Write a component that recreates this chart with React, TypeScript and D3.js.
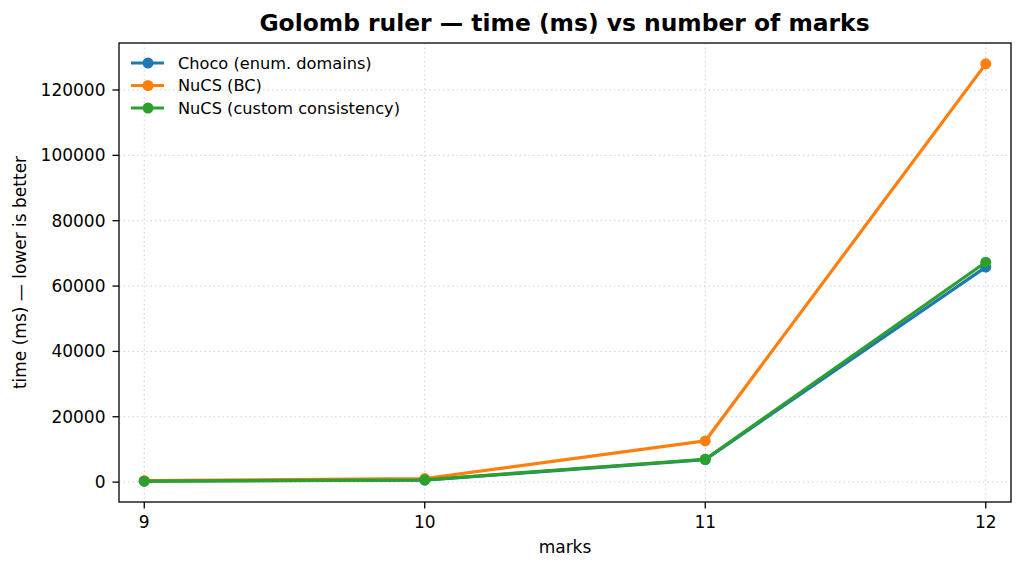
import React from "react";
import * as d3 from "d3";

const marks = [9, 10, 11, 12];
const chocoValues = [300, 600, 6900, 65800];
const nucsBCValues = [450, 1100, 12600, 128000];
const nucsCustomValues = [300, 700, 7000, 67300];
const yTicks = [0, 20000, 40000, 60000, 80000, 100000, 120000];

const seriesNames = ["Choco (enum. domains)", "NuCS (BC)", "NuCS (custom consistency)"];
const seriesColors = ["#1f77b4", "#ff7f0e", "#2ca02c"];

const W = 1024, H = 570;
const left = 119, right = 1011, top = 43, bottom = 502;

export default function App() {
  const series = [chocoValues, nucsBCValues, nucsCustomValues];
  const x = d3.scaleLinear().domain([9 - 0.09, 12 + 0.09]).range([left, right]);
  const allVals = series.flat();
  const mn = d3.min(allVals)!, mx = d3.max(allVals)!;
  const pad = (mx - mn) * 0.05;
  const y = d3.scaleLinear().domain([mn - pad, mx + pad]).range([bottom, top]);
  const line = d3.line<number>().x((_, i) => x(marks[i])).y((d) => y(d));
  const font = "DejaVu Sans, sans-serif";
  return (
    <svg width={W} height={H} style={{ position: "absolute", left: 0, top: 0 }} fontFamily={font}>
      <rect width={W} height={H} fill="#fff" />
      {/* grid */}
      {marks.map((m) => (
        <line key={"gx" + m} x1={x(m)} x2={x(m)} y1={top} y2={bottom} stroke="#d0d0d0" strokeWidth={1} strokeDasharray="1.5,3" />
      ))}
      {yTicks.map((t) => (
        <line key={"gy" + t} x1={left} x2={right} y1={y(t)} y2={y(t)} stroke="#d0d0d0" strokeWidth={1} strokeDasharray="1.5,3" />
      ))}
      {/* lines */}
      {series.map((s, i) => (
        <g key={"s" + i}>
          <path d={line(s)!} fill="none" stroke={seriesColors[i]} strokeWidth={3.2} strokeLinejoin="round" strokeLinecap="butt" />
          {s.map((v, j) => (
            <circle key={j} cx={x(marks[j])} cy={y(v)} r={5.5} fill={seriesColors[i]} />
          ))}
        </g>
      ))}
      {/* frame */}
      <rect x={left} y={top} width={right - left} height={bottom - top} fill="none" stroke="#000" strokeWidth={1.3} />
      {/* x ticks */}
      {marks.map((m) => (
        <g key={"xt" + m}>
          <line x1={x(m)} x2={x(m)} y1={bottom} y2={bottom + 6.5} stroke="#000" strokeWidth={1.3} />
          <text x={x(m)} y={bottom + 26} textAnchor="middle" fontSize={17} fill="#000">{m}</text>
        </g>
      ))}
      {yTicks.map((t) => (
        <g key={"yt" + t}>
          <line x1={left - 6.5} x2={left} y1={y(t)} y2={y(t)} stroke="#000" strokeWidth={1.3} />
          <text x={left - 13.5} y={y(t)} dy="0.35em" textAnchor="end" fontSize={17} fill="#000">{t}</text>
        </g>
      ))}
      <text x={(left + right) / 2} y={553} textAnchor="middle" fontSize={17} fill="#000">marks</text>
      <text transform={`translate(26,${(top + bottom) / 2}) rotate(-90)`} textAnchor="middle" fontSize={17} fill="#000">time (ms) — lower is better</text>
      <text x={(left + right) / 2 - 0.5} y={31} textAnchor="middle" fontSize={23.4} fontWeight="bold" fill="#000">Golomb ruler — time (ms) vs number of marks</text>
      {/* legend */}
      {seriesNames.map((n, i) => (
        <g key={"lg" + i} transform={`translate(0,${63 + i * 22.5})`}>
          <line x1={131} x2={164} y1={0} y2={0} stroke={seriesColors[i]} strokeWidth={3.2} />
          <circle cx={148} cy={0} r={5.5} fill={seriesColors[i]} />
          <text x={178} y={0} dy="0.35em" fontSize={16.2} fill="#000">{n}</text>
        </g>
      ))}
    </svg>
  );
}
